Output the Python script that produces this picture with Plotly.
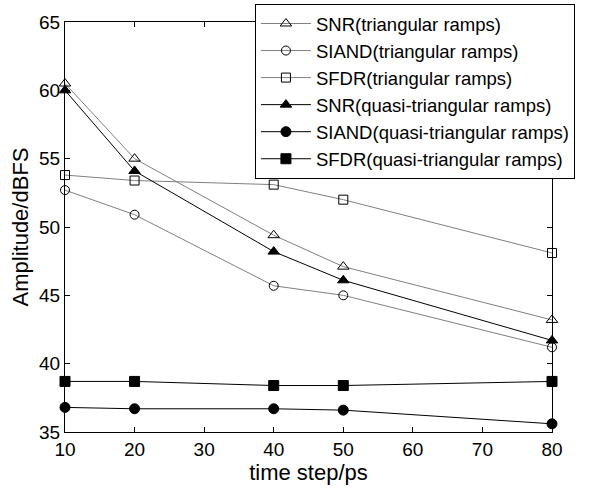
import plotly.graph_objects as go

time_step = [10, 20, 40, 50, 80]
snr_tri = [60.5, 55.0, 49.4, 47.1, 43.2]
siand_tri = [52.7, 50.9, 45.7, 45.0, 41.2]
sfdr_tri = [53.8, 53.4, 53.1, 52.0, 48.1]
snr_quasi = [60.0, 54.1, 48.2, 46.1, 41.7]
siand_quasi = [36.8, 36.7, 36.7, 36.6, 35.6]
sfdr_quasi = [38.7, 38.7, 38.4, 38.4, 38.7]

x_ticks = [10, 20, 30, 40, 50, 60, 70, 80]
y_ticks = [35, 40, 45, 50, 55, 60, 65]

series = [
    ("SNR(triangular ramps)", snr_tri, "triangle-up-open", "#808080", 10),
    ("SIAND(triangular ramps)", siand_tri, "circle-open", "#808080", 9),
    ("SFDR(triangular ramps)", sfdr_tri, "square-open", "#808080", 9),
    ("SNR(quasi-triangular ramps)", snr_quasi, "triangle-up", "#000000", 10),
    ("SIAND(quasi-triangular ramps)", siand_quasi, "circle", "#000000", 10),
    ("SFDR(quasi-triangular ramps)", sfdr_quasi, "square", "#000000", 10),
]

fig = go.Figure()
for name, vals, sym, col, size in series:
    fig.add_trace(go.Scatter(
        x=time_step, y=vals, name=name, mode="lines+markers",
        line=dict(color=col, width=1),
        marker=dict(symbol=sym, size=size, color="#000000",
                    line=dict(color="#000000", width=1)),
        cliponaxis=False,
    ))

font = "Liberation Sans, Arial, sans-serif"
fig.update_layout(
    width=597, height=489,
    margin=dict(l=65, r=45, t=22, b=57, autoexpand=False),
    paper_bgcolor="white", plot_bgcolor="white",
    font=dict(family=font, size=19, color="#000000"),
    showlegend=True,
    legend=dict(
        x=0.390, y=1.044, xanchor="left", yanchor="top",
        xref="paper", yref="paper",
        bgcolor="white", bordercolor="#000000", borderwidth=1,
        font=dict(family=font, size=18.5, color="#000000"),
        tracegroupgap=0, itemwidth=50,
    ),
    xaxis=dict(
        range=[10, 80], tickvals=x_ticks, ticktext=[str(v) for v in x_ticks],
        ticks="inside", ticklen=5, tickcolor="#000000",
        showline=True, linecolor="#000000", linewidth=1, mirror="ticks",
        showgrid=False, zeroline=False, automargin=False,
        title=dict(text="time step/ps", font=dict(size=22), standoff=3),
        tickfont=dict(size=19),
    ),
    yaxis=dict(
        range=[35, 65], tickvals=y_ticks, ticktext=[str(v) for v in y_ticks],
        ticks="inside", ticklen=5, tickcolor="#000000",
        showline=True, linecolor="#000000", linewidth=1, mirror="ticks",
        showgrid=False, zeroline=False, automargin=False,
        title=dict(text="Amplitude/dBFS", font=dict(size=22), standoff=4),
        tickfont=dict(size=19),
    ),
)

fig.write_html("out.html", config={"displayModeBar": False},
               post_script="document.body.style.margin='0'")
